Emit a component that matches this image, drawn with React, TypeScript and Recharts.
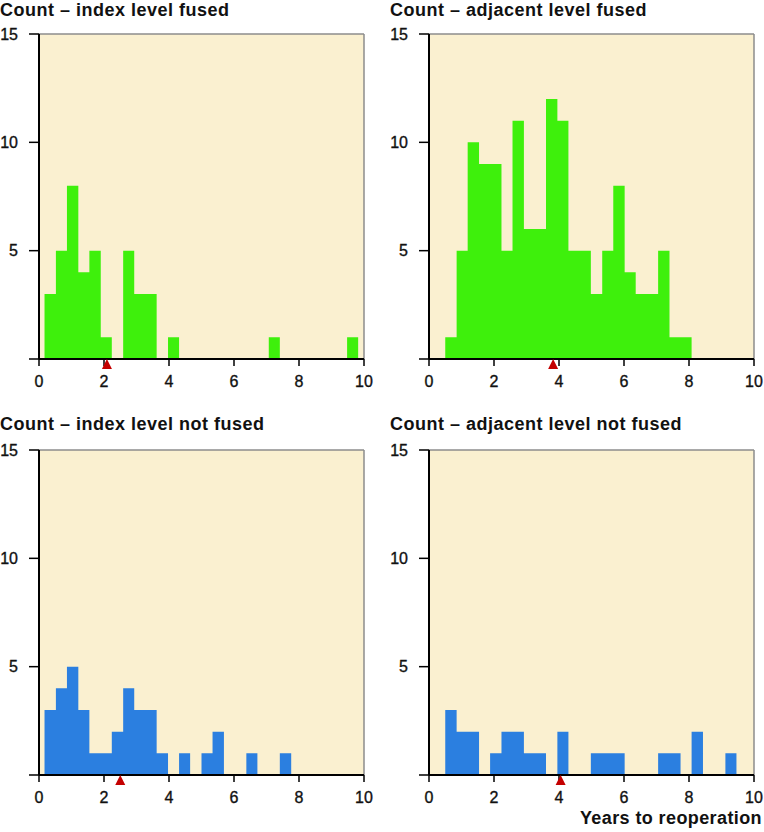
import React from 'react';
import { ComposedChart, Area, XAxis, YAxis, CartesianGrid, ReferenceLine, ReferenceDot } from 'recharts';

// bin edges (years)
const edgesIndex = [0.17, 0.52, 0.86, 1.21, 1.55, 1.9, 2.24, 2.59, 2.93, 3.28, 3.62, 3.97, 4.31, 4.65, 5.0, 5.34, 5.69, 6.03, 6.38, 6.72, 7.07, 7.41, 7.76, 8.1, 8.44, 8.79, 9.13, 9.48, 9.82];
const edgesAdjacent = [0.5, 0.85, 1.19, 1.54, 1.88, 2.23, 2.57, 2.92, 3.26, 3.6, 3.95, 4.29, 4.64, 4.98, 5.33, 5.67, 6.02, 6.36, 6.71, 7.05, 7.4, 7.74, 8.08, 8.43, 8.77, 9.12, 9.46];

// counts per bin
const countsIndexFused = [3, 5, 8, 4, 5, 1, 0, 5, 3, 3, 0, 1, 0, 0, 0, 0, 0, 0, 0, 0, 1, 0, 0, 0, 0, 0, 0, 1];
const countsAdjacentFused = [1, 5, 10, 9, 9, 5, 11, 6, 6, 12, 11, 5, 5, 3, 5, 8, 4, 3, 3, 5, 1, 1];
const countsIndexNotFused = [3, 4, 5, 3, 1, 1, 2, 4, 3, 3, 1, 0, 1, 0, 1, 2, 0, 0, 1, 0, 0, 1];
const countsAdjacentNotFused = [3, 2, 2, 0, 1, 2, 2, 1, 1, 0, 2, 0, 0, 1, 1, 1, 0, 0, 0, 1, 1, 0, 2, 0, 0, 1];

// medians (red markers)
const medianIndexFused = 2.09;
const medianAdjacentFused = 3.82;
const medianIndexNotFused = 2.5;
const medianAdjacentNotFused = 4.05;

const titles = [
  'Count – index level fused',
  'Count – adjacent level fused',
  'Count – index level not fused',
  'Count – adjacent level not fused',
];

const xTicks = [0, 2, 4, 6, 8, 10];
const yTicks = [0, 5, 10, 15];

const GREEN = '#3ef00c';
const BLUE = '#2b7fe0';
const FONT = '"Liberation Sans", Arial, Helvetica, sans-serif';
const tickStyle = { fill: '#111', fontSize: 16, fontFamily: FONT, stroke: '#111', strokeWidth: 0.35 };

const buildSteps = (edges: number[], counts: number[]) =>
  edges.slice(0, counts.length + 1).map((x, i) => ({ x, y: i < counts.length ? counts[i] : 0 }));

const Triangle = (props: any) => {
  const { cx, cy } = props;
  if (cx == null || cy == null) return null;
  return <polygon points={`${cx - 5},${cy + 10} ${cx + 5},${cy + 10} ${cx},${cy}`} fill="#c40000" />;
};

interface PanelProps {
  title: string;
  edges: number[];
  counts: number[];
  median: number;
  color: string;
  left: number;
  top: number;
  titleTop: number;
  width: number;
}

const Panel: React.FC<PanelProps> = ({ title, edges, counts, median, color, left, top, titleTop, width }) => {
  const data = buildSteps(edges, counts);
  return (
    <>
      <div
        style={{
          position: 'absolute',
          left,
          top: titleTop,
          fontFamily: FONT,
          fontWeight: 700,
          fontSize: 18,
          lineHeight: '20px',
          letterSpacing: 0.5,
          color: '#111',
          whiteSpace: 'nowrap',
        }}
      >
        {title}
      </div>
      <div style={{ position: 'absolute', left, top }}>
        <ComposedChart
          width={width}
          height={400}
          data={data}
          margin={{ top: 34, right: width - 364, bottom: 0, left: 0 }}
        >
          <CartesianGrid horizontal={false} vertical={false} fill="#faf0d0" fillOpacity={1} />
          <ReferenceLine y={15} stroke="#8c8c8c" strokeWidth={1.5} />
          <ReferenceLine x={10} stroke="#8c8c8c" strokeWidth={1.5} />
          <Area
            type="stepAfter"
            dataKey="y"
            stroke="none"
            fill={color}
            fillOpacity={1}
            dot={false}
            activeDot={false}
            isAnimationActive={false}
          />
          <XAxis
            dataKey="x"
            type="number"
            domain={[0, 10]}
            ticks={xTicks}
            height={41}
            tickSize={7}
            tickMargin={10}
            axisLine={{ stroke: '#000', strokeWidth: 2 }}
            tickLine={{ stroke: '#000', strokeWidth: 1.5 }}
            tick={tickStyle}
          />
          <YAxis
            type="number"
            domain={[0, 15]}
            ticks={yTicks}
            width={39}
            tickSize={10}
            tickMargin={11}
            axisLine={{ stroke: '#000', strokeWidth: 2 }}
            tickLine={{ stroke: '#000', strokeWidth: 1.5 }}
            tickFormatter={(v: number) => (v === 0 ? '' : String(v))}
            tick={tickStyle}
          />
          <ReferenceDot x={median} y={0} r={5} ifOverflow="visible" shape={Triangle} />
        </ComposedChart>
      </div>
    </>
  );
};

export default function App() {
  return (
    <div style={{ position: 'absolute', left: 0, top: 0, width: 764, height: 832, background: '#fff', overflow: 'hidden' }}>
      <Panel title={titles[0]} edges={edgesIndex} counts={countsIndexFused} median={medianIndexFused} color={GREEN} left={0} top={0} titleTop={0} width={380} />
      <Panel title={titles[1]} edges={edgesAdjacent} counts={countsAdjacentFused} median={medianAdjacentFused} color={GREEN} left={390} top={0} titleTop={0} width={374} />
      <Panel title={titles[2]} edges={edgesIndex} counts={countsIndexNotFused} median={medianIndexNotFused} color={BLUE} left={0} top={416} titleTop={414} width={380} />
      <Panel title={titles[3]} edges={edgesAdjacent} counts={countsAdjacentNotFused} median={medianAdjacentNotFused} color={BLUE} left={390} top={416} titleTop={414} width={374} />
      <div
        style={{
          position: 'absolute',
          left: 0,
          top: 808,
          width: 762,
          textAlign: 'right',
          fontFamily: FONT,
          fontWeight: 700,
          fontSize: 18,
          lineHeight: '20px',
          letterSpacing: 0.4,
          color: '#111',
        }}
      >
        Years to reoperation
      </div>
    </div>
  );
}
